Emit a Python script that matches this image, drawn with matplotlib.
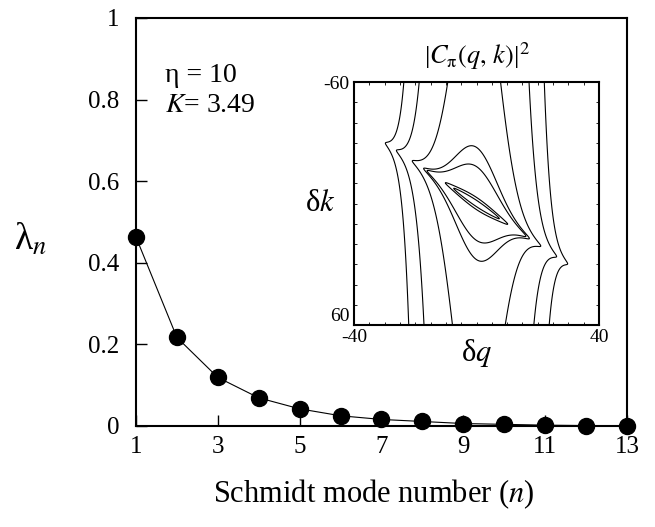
import numpy as np
import matplotlib
matplotlib.use("Agg")
import matplotlib.pyplot as plt

plt.rcParams["font.family"] = ["Liberation Serif", "DejaVu Serif"]
plt.rcParams["mathtext.fontset"] = "stix"

# Schmidt eigenvalues
mode_n = [1, 2, 3, 4, 5, 6, 7, 8, 9, 10, 11, 12, 13]
lam_n = [0.463, 0.217, 0.119, 0.069, 0.042, 0.025, 0.016, 0.011, 0.006, 0.004, 0.002, 0.001, 0.0005]
x_ticks = [1, 3, 5, 7, 9, 11, 13]
y_ticks = [0, 0.2, 0.4, 0.6, 0.8, 1]
y_labels = ["0", "0.2", "0.4", "0.6", "0.8", "1"]

# inset: |C(q,k)|^2 model, gaussian in q times lorentzian along k - q
q_range = [-40, 40]
k_range = [-60, 60]
sigma_q = 6.7
gamma_k = 1.0
levels = [2.7e-9, 2.4e-7, 5.5e-5, 1.3e-3, 3.0e-3, 0.099, 0.29]

fig = plt.figure(figsize=(6.55, 5.27), dpi=100)
ax = fig.add_axes([0.2076, 0.1917, 0.7496, 0.7742])

ax.plot(mode_n, lam_n, color="black", lw=0.8, marker="o", ms=11.5,
        mfc="black", mec="black", clip_on=False, zorder=3)
ax.set_xlim(1, 13)
ax.set_ylim(0, 1)
ax.set_xticks(x_ticks)
ax.set_yticks(y_ticks)
ax.set_yticklabels(y_labels)
ax.tick_params(direction="in", length=8, width=1, labelsize=18,
               top=False, right=False)
ax.tick_params(axis="x", pad=7)
ax.tick_params(axis="y", pad=12)
for sp in ax.spines.values():
    sp.set_linewidth(1.5)

fig.text(0.022, 0.545, "λ$_{n}$", fontsize=27, ha="left", va="center")
fig.text(0.571, 0.063, "Schmidt mode number ($n$)", fontsize=22,
         ha="center", va="center")
ax.text(0.06, 0.86, "η = 10", transform=ax.transAxes, fontsize=20,
        ha="left", va="center")
ax.text(0.06, 0.785, "$K$= 3.49", transform=ax.transAxes, fontsize=20,
        ha="left", va="center")

# inset contour plot
ins = fig.add_axes([0.5405, 0.3833, 0.374, 0.4611])
q = np.linspace(q_range[0], q_range[1], 801)
k = np.linspace(k_range[0], k_range[1], 1201)
Q, K = np.meshgrid(q, k)
C2 = np.exp(-(Q / sigma_q) ** 2) / (1 + ((K - Q) / gamma_k) ** 2)
ins.contour(Q, K, C2, levels=levels, colors="black", linewidths=0.8)
ins.set_xlim(q_range)
ins.set_ylim(k_range[1], k_range[0])
ins.set_xticks(q_range)
ins.set_yticks(k_range)
ins.set_xticklabels(["-40", "40"])
ins.set_yticklabels(["-60", "60"])
ins.get_yticklabels()[1].set_va("bottom")
ins.set_xticks(np.arange(-35, 40, 5), minor=True)
ins.set_yticks(np.arange(-50, 60, 10), minor=True)
ins.tick_params(which="both", direction="in", top=True, right=True,
                labelsize=14, length=0, pad=3)
ins.tick_params(which="minor", length=2, width=0.6)
for sp in ins.spines.values():
    sp.set_linewidth(1.5)
ins.text(0.5, 1.105, r"|$C_{\mathrm{\pi}}(q,\, k)$|$^2$", transform=ins.transAxes,
         fontsize=19, ha="center", va="center")
ins.set_xlabel("δ$q$", fontsize=22, va="center")
ins.xaxis.set_label_coords(0.5, -0.115)
ins.set_ylabel("δ$k$", fontsize=22, rotation=0, va="center", ha="center")
ins.yaxis.set_label_coords(-0.14, 0.5)

fig.savefig("out.png", dpi=100)
